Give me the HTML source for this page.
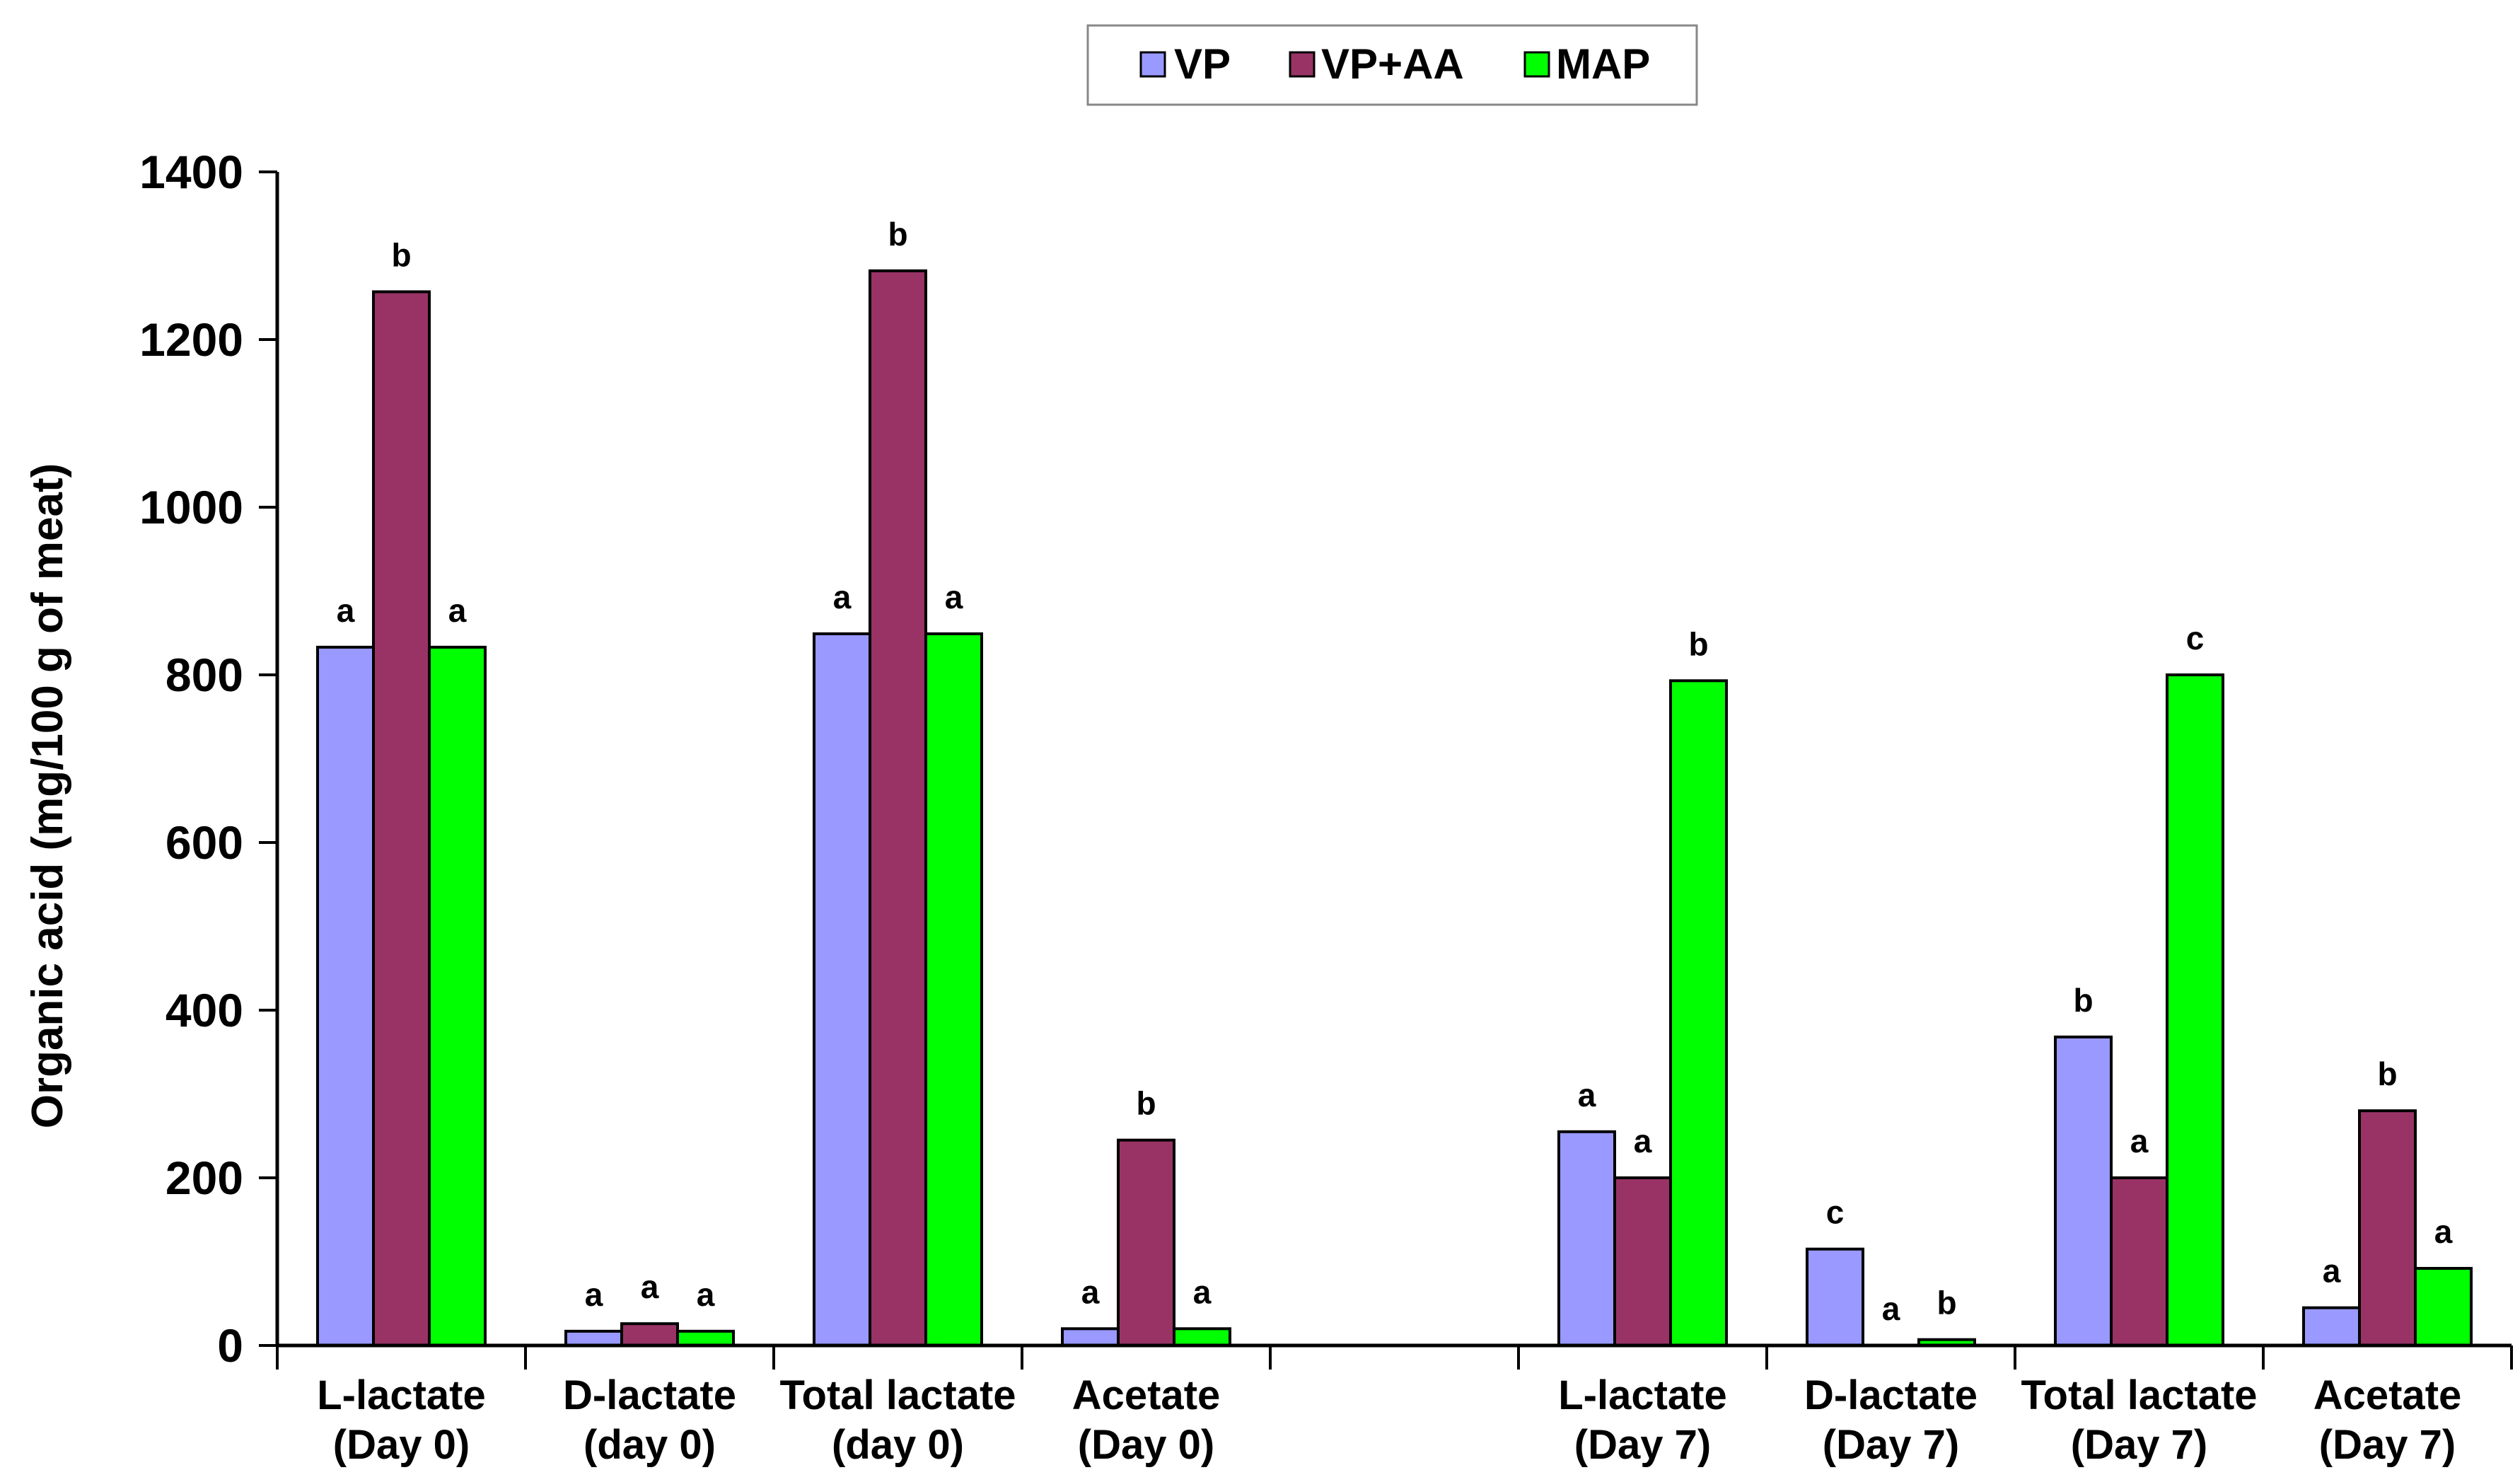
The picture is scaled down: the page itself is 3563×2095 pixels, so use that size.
<!DOCTYPE html>
<html><head><meta charset="utf-8"><style>
body{margin:0;background:#fff}
svg{display:block;font-family:"Liberation Sans",Arial,sans-serif;font-weight:bold}
</style></head><body>
<svg id="chart" width="3563" height="2095" viewBox="0 0 3563 2095" xmlns="http://www.w3.org/2000/svg">
<g>
<rect x="1538" y="36" width="861" height="112" fill="#fff" stroke="#888" stroke-width="3"/>
<rect x="1613" y="74" width="34" height="34" fill="#9999FF" stroke="#000" stroke-width="3"/>
<text x="1660" y="111" font-size="60">VP</text>
<rect x="1824" y="74" width="34" height="34" fill="#993366" stroke="#000" stroke-width="3"/>
<text x="1868" y="111" font-size="60">VP+AA</text>
<rect x="2156" y="74" width="34" height="34" fill="#00FF00" stroke="#000" stroke-width="3"/>
<text x="2200" y="111" font-size="60">MAP</text>
</g>
<text transform="translate(88,1125) rotate(-90)" text-anchor="middle" font-size="62">Organic acid (mg/100 g of meat)</text>
<g id="plot"></g>
</svg>
<script>
const categories1 = ["L-lactate","D-lactate","Total lactate","Acetate","","L-lactate","D-lactate","Total lactate","Acetate"];
const categories2 = ["(Day 0)","(day 0)","(day 0)","(Day 0)","","(Day 7)","(Day 7)","(Day 7)","(Day 7)"];
const vpValues = [833,17,849,20,null,255,115,368,45];
const vpaaValues = [1257,26,1282,245,null,200,0,200,280];
const mapValues = [833,17,849,20,null,793,7,800,92];
const vpLetters = ["a","a","a","a","","a","c","b","a"];
const vpaaLetters = ["b","a","b","b","","a","a","a","b"];
const mapLetters = ["a","a","a","a","","b","b","c","a"];
const yTicks = [0,200,400,600,800,1000,1200,1400];

const NS="http://www.w3.org/2000/svg";
const g=document.getElementById('plot');
const X0=392, SLOT=351, Y0=1902, YTOP=243, YMAX=1400, BW=79;
const y=v=>Y0-(v/YMAX)*(Y0-YTOP);
const xc=i=>X0+(i+0.5)*SLOT;
function mk(tag,attrs){const e=document.createElementNS(NS,tag);for(const k in attrs)e.setAttribute(k,attrs[k]);g.appendChild(e);return e;}

yTicks.forEach(t=>{
  const l=mk('line',{x1:X0-26,x2:X0,y1:y(t),y2:y(t),stroke:'#000','stroke-width':4});
  
  
  const tx=mk('text',{x:X0-48,y:y(t)+23,'text-anchor':'end','font-size':66});
  tx.textContent=t;
  
  
});

const series=[[vpValues,'#9999FF',vpLetters,'vp'],[vpaaValues,'#993366',vpaaLetters,'vp-aa'],[mapValues,'#00FF00',mapLetters,'map']];
categories1.forEach((c,i)=>{
  if(vpValues[i]===null) return;
  series.forEach((s,j)=>{
    const v=s[0][i];
    const bx=xc(i)-1.5*BW+j*BW;
    const r=mk('rect',{x:bx,y:y(v),width:BW,height:Y0-y(v),fill:s[1],stroke:'#000','stroke-width':4});
    
    
    const t=mk('text',{x:bx+BW/2,y:y(v)-36,'text-anchor':'middle','font-size':46});
    t.textContent=s[2][i];
    
    
  });
});

categories1.forEach((c,i)=>{
  const t1=mk('text',{x:xc(i),y:1992,'text-anchor':'middle','font-size':58});
  t1.textContent=c;
  
  
  const t2=mk('text',{x:xc(i),y:2062,'text-anchor':'middle','font-size':58});
  t2.textContent=categories2[i];
  
  
});
for(let i=0;i<=categories1.length;i++){
  const l=mk('line',{x1:X0+i*SLOT,x2:X0+i*SLOT,y1:Y0,y2:Y0+34,stroke:'#000','stroke-width':4});
  
  
}
const ya=mk('line',{x1:X0,x2:X0,y1:YTOP,y2:Y0,stroke:'#000','stroke-width':5});


const xa=mk('line',{x1:X0,x2:X0+9*SLOT,y1:Y0,y2:Y0,stroke:'#000','stroke-width':5});


</script>
</body></html>
